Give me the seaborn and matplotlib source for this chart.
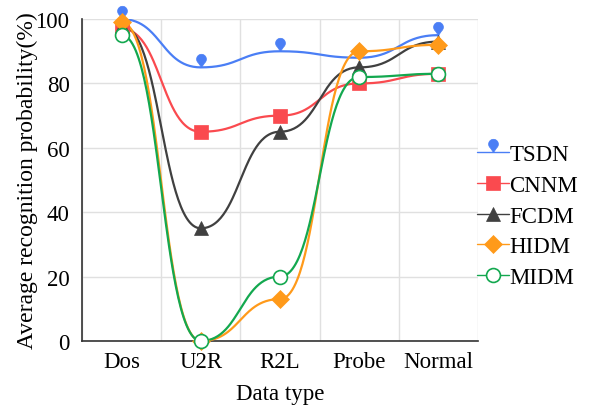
import numpy as np
import pandas as pd
import matplotlib
matplotlib.use('Agg')
import matplotlib.pyplot as plt
from matplotlib.path import Path
from matplotlib.lines import Line2D
import seaborn as sns

categories = ['Dos', 'U2R', 'R2L', 'Probe', 'Normal']
tsdn = [100, 85, 90, 88, 95]
cnnm = [97, 65, 70, 80, 83]
fcdm = [98, 35, 65, 85, 93]
hidm = [99, 0, 13, 90, 92]
midm = [95, 0, 20, 82, 83]

series = {'TSDN': tsdn, 'CNNM': cnnm, 'FCDM': fcdm, 'HIDM': hidm, 'MIDM': midm}
colors = {'TSDN': '#4a7ef5', 'CNNM': '#fa4a4f', 'FCDM': '#404040',
          'HIDM': '#ff9a1a', 'MIDM': '#13a84f'}

# pin marker, tip at the data point
ang = np.linspace(np.radians(-50), np.radians(230), 30)
pin_verts = [(0, 0)] + [(0.37 * np.cos(a), 0.63 + 0.37 * np.sin(a)) for a in ang] + [(0, 0)]
pin = Path(pin_verts, [Path.MOVETO] + [Path.LINETO] * (len(pin_verts) - 2) + [Path.CLOSEPOLY])

markers = {'TSDN': pin, 'CNNM': 's', 'FCDM': '^', 'HIDM': 'D', 'MIDM': 'o'}
msize = {'TSDN': 19, 'CNNM': 10, 'FCDM': 10, 'HIDM': 9, 'MIDM': 10}


def smooth_curve(ys, n=60):
    # monotone-x bezier: flat tangent at every point, control points half way
    t = np.linspace(0, 1, n)
    xs, yy = [], []
    for i in range(len(ys) - 1):
        x0, x1 = i, i + 1
        y0, y1 = ys[i], ys[i + 1]
        cx = (x0 + x1) / 2
        bx = (1 - t) ** 3 * x0 + 3 * (1 - t) ** 2 * t * cx + 3 * (1 - t) * t ** 2 * cx + t ** 3 * x1
        by = (1 - t) ** 3 * y0 + 3 * (1 - t) ** 2 * t * y0 + 3 * (1 - t) * t ** 2 * y1 + t ** 3 * y1
        start = 0 if i == 0 else 1
        xs += list(bx[start:])
        yy += list(by[start:])
    return xs, yy


rows = []
for name, ys in series.items():
    xs, yy = smooth_curve(ys)
    rows += [{'x': a, 'y': b, 'model': name} for a, b in zip(xs, yy)]
curves = pd.DataFrame(rows)

sns.set_style('white')
plt.rcParams['font.family'] = ['Liberation Serif', 'DejaVu Serif']
plt.rcParams['text.color'] = 'black'
plt.rcParams['axes.labelcolor'] = 'black'
plt.rcParams['xtick.labelcolor'] = 'black'
plt.rcParams['ytick.labelcolor'] = 'black'
fs = 16.5

fig = plt.figure(figsize=(5.9, 4.1), dpi=100)
ax = fig.add_axes([0.139, 0.166, 0.671, 0.785])

for name in series:
    sns.lineplot(data=curves[curves['model'] == name], x='x', y='y', color=colors[name],
                 linewidth=1.6, ax=ax, legend=False, sort=False, estimator=None, zorder=3)

handles = []
for name, ys in series.items():
    face = 'white' if name == 'MIDM' else colors[name]
    ax.plot(range(len(categories)), ys, linestyle='none', marker=markers[name],
            markersize=msize[name], markerfacecolor=face, markeredgecolor=colors[name],
            markeredgewidth=1.2 if name == 'MIDM' else 0.5, zorder=5, clip_on=False)
    handles.append(Line2D([0], [0], color=colors[name], linewidth=1.0, marker=markers[name],
                          markersize=msize[name], markerfacecolor=face,
                          markeredgecolor=colors[name],
                          markeredgewidth=1.2 if name == 'MIDM' else 0.5))

ax.set_xlim(-0.5, len(categories) - 0.5)
ax.set_ylim(0, 100)
ax.set_yticks(range(0, 101, 20))
ax.set_xticks(np.arange(-0.5, len(categories), 1.0))
ax.set_xticklabels([])
ax.set_xticks(range(len(categories)), minor=True)
ax.set_xticklabels(categories, minor=True)
ax.tick_params(axis='x', which='minor', length=0, pad=7, labelsize=fs, labelcolor='black')
ax.tick_params(axis='x', which='major', length=5, width=1, color='#333333', direction='out')
ax.tick_params(axis='y', length=6, width=1, color='#333333', direction='out', labelsize=fs,
               pad=3, labelcolor='black')
ax.grid(True, which='major', color='#e0e0e0', linewidth=1)
ax.set_axisbelow(True)
for side in ['top', 'right']:
    ax.spines[side].set_visible(False)
for side in ['left', 'bottom']:
    ax.spines[side].set_color('#333333')
    ax.spines[side].set_linewidth(1.2)

ax.set_xlabel('Data type', fontsize=fs, labelpad=8, color='black')
ax.set_ylabel('Average recognition probability(%)', fontsize=17, labelpad=-2, color='black')

ax.legend(handles, list(series.keys()), loc='center left', bbox_to_anchor=(0.998, 0.388),
          frameon=False, fontsize=fs, handlelength=1.4, handletextpad=0.0,
          labelspacing=0.42, borderaxespad=0, borderpad=0, labelcolor='black')

fig.savefig('out.png', dpi=100)
